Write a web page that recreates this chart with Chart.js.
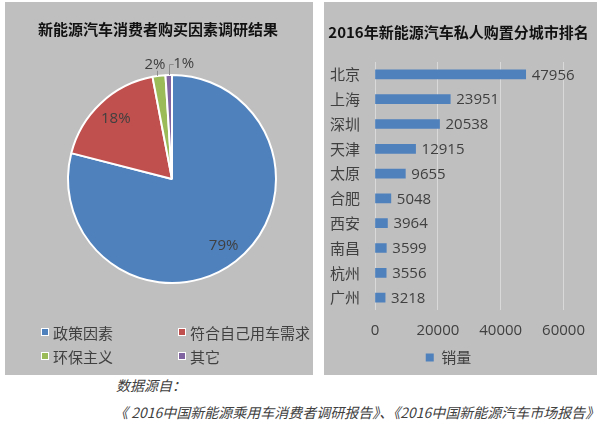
<!DOCTYPE html>
<html><head><meta charset="utf-8">
<script src="https://cdn.jsdelivr.net/npm/chart.js@4"></script>
<style>
html,body{margin:0;padding:0;background:#fff;width:600px;height:429px;overflow:hidden;}
.panel{position:absolute;background:#bfbfbf;}
#p1{left:5px;top:2px;width:308px;height:373px;}
#p2{left:324px;top:2px;width:273px;height:373px;}
canvas{display:block;}
.note{position:absolute;font-family:'Noto Sans CJK SC',sans-serif;font-style:italic;font-size:14px;color:#404040;white-space:nowrap;line-height:18px;}
</style></head><body>
<div class="panel" id="p1"><canvas id="c1" width="308" height="373" style="width:308px;height:373px"></canvas></div>
<div class="panel" id="p2"><canvas id="c2" width="273" height="373" style="width:273px;height:373px"></canvas></div>
<div class="note" id="n1" style="left:116px;top:376px">数据源自：</div>
<div class="note" id="n2" style="left:114px;top:403px">《 2016中国新能源乘用车消费者调研报告》、《2016中国新能源汽车市场报告》</div>
<script>
// ---- data ----
const pieTitle = '新能源汽车消费者购买因素调研结果';
const pieLabels = ['政策因素', '符合自己用车需求', '环保主义', '其它'];
const pieValues = [79, 18, 2, 1];

const barTitle = '2016年新能源汽车私人购置分城市排名';
const cities = ['北京', '上海', '深圳', '天津', '太原', '合肥', '西安', '南昌', '杭州', '广州'];
const sales = [47956, 23951, 20538, 12915, 9655, 5048, 3964, 3599, 3556, 3218];
const xTickValues = [0, 20000, 40000, 60000];
const seriesName = '销量';

// ---- styles ----
const FONT = "'Noto Sans CJK SC', sans-serif";
const FONT_NUM = "'Open Sans', 'Noto Sans CJK SC', sans-serif";
const TEXT = '#404040';
const pieColors = ['#4f81bd', '#c0504d', '#9bbb59', '#8064a2'];
const pieLabelStyle = [
  {inside: true, k: 0.81},
  {inside: true, k: 0.79},
  {inside: false, dx: -4, dy: -11},
  {inside: false, dx: 15, dy: -11}
];

const pieDecor = {
  id: 'pieDecor',
  afterDatasetsDraw(chart) {
    const ctx = chart.ctx;
    const meta = chart.getDatasetMeta(0);
    ctx.save();
    ctx.font = '15px ' + FONT_NUM;
    ctx.fillStyle = TEXT;
    ctx.textAlign = 'center';
    ctx.textBaseline = 'middle';
    ctx.strokeStyle = '#8c8c8c';
    ctx.lineWidth = 1;
    meta.data.forEach((arc, i) => {
      const p = arc.getProps(['x', 'y', 'startAngle', 'endAngle', 'outerRadius'], true);
      const mid = (p.startAngle + p.endAngle) / 2;
      const text = pieValues[i] + '%';
      const st = pieLabelStyle[i];
      if (st.inside) {
        ctx.fillText(text, p.x + Math.cos(mid) * p.outerRadius * st.k, p.y + Math.sin(mid) * p.outerRadius * st.k);
      } else {
        const ax = p.x + Math.cos(mid) * p.outerRadius;
        const ay = p.y + Math.sin(mid) * p.outerRadius;
        const tx = ax + st.dx, ty = ay + st.dy;
        ctx.beginPath();
        if (st.dx < 0) {
          ctx.moveTo(Math.round(ax - 2) + 0.5, ay);
          ctx.lineTo(Math.round(ax - 2) + 0.5, ty + 6);
        } else {
          ctx.moveTo(Math.round(ax) + 0.5, ay);
          ctx.lineTo(Math.round(ax) + 0.5, Math.round(ty) + 0.5);
          ctx.lineTo(tx - 10, Math.round(ty) + 0.5);
        }
        ctx.stroke();
        ctx.fillText(text, tx, ty);
      }
    });
    ctx.restore();
  },
  afterDraw(chart) {
    const ctx = chart.ctx;
    ctx.save();
    ctx.fillStyle = '#111';
    ctx.font = 'bold 15px ' + FONT;
    ctx.textAlign = 'center';
    ctx.textBaseline = 'middle';
    ctx.fillText(pieTitle, 153, 27);
    // legend
    const cols = [36, 173], rows = [330, 354];
    ctx.font = '15px ' + FONT;
    ctx.textAlign = 'left';
    pieLabels.forEach((lab, i) => {
      const x = cols[i % 2], y = rows[Math.floor(i / 2)];
      ctx.fillStyle = pieColors[i];
      ctx.fillRect(x, y - 4, 8, 8);
      ctx.strokeStyle = '#fff';
      ctx.lineWidth = 1;
      ctx.strokeRect(x + 0.5, y - 3.5, 7, 7);
      ctx.fillStyle = TEXT;
      ctx.fillText(lab, x + 12, y + 1);
    });
    ctx.restore();
  }
};

new Chart(document.getElementById('c1'), {
  type: 'pie',
  data: {
    labels: pieLabels,
    datasets: [{data: pieValues, backgroundColor: pieColors, borderColor: '#ffffff', borderWidth: 2, hoverOffset: 0}]
  },
  options: {
    responsive: false,
    animation: false,
    events: [],
    layout: {padding: {left: 62, right: 36, top: 72, bottom: 91}},
    plugins: {legend: {display: false}, title: {display: false}, tooltip: {enabled: false}}
  },
  plugins: [pieDecor]
});

const barDecor = {
  id: 'barDecor',
  afterDatasetsDraw(chart) {
    const ctx = chart.ctx;
    const meta = chart.getDatasetMeta(0);
    ctx.save();
    ctx.font = '15px ' + FONT_NUM;
    ctx.fillStyle = TEXT;
    ctx.textAlign = 'left';
    ctx.textBaseline = 'middle';
    meta.data.forEach((bar, i) => {
      ctx.fillText(String(sales[i]), bar.x + 6, bar.y + 1);
    });
    ctx.restore();
  },
  afterDraw(chart) {
    const ctx = chart.ctx;
    ctx.save();
    ctx.fillStyle = '#111';
    ctx.font = 'bold 15px ' + FONT;
    ctx.textAlign = 'center';
    ctx.textBaseline = 'middle';
    ctx.fillText(barTitle, 134.5, 30);
    ctx.restore();
  }
};

new Chart(document.getElementById('c2'), {
  type: 'bar',
  data: {
    labels: cities,
    datasets: [{label: seriesName, data: sales, backgroundColor: '#4f81bd', borderWidth: 0, barThickness: 9}]
  },
  options: {
    indexAxis: 'y',
    responsive: false,
    animation: false,
    events: [],
    layout: {padding: {left: 6, right: 30, top: 60, bottom: 0}},
    plugins: {
      title: {display: false},
      legend: {position: 'bottom', labels: {boxWidth: 8, boxHeight: 8, color: TEXT, font: {size: 15, family: FONT}, padding: 12}},
      tooltip: {enabled: false}
    },
    scales: {
      x: {
        min: 0, max: 60000,
        afterBuildTicks: s => { s.ticks = xTickValues.map(v => ({value: v})); },
        afterFit: s => { s.height = 28; },
        grid: {color: '#d9d9d9', drawTicks: false},
        border: {display: false},
        ticks: {color: TEXT, font: {size: 15, family: FONT_NUM}, padding: 12, maxRotation: 0, callback: v => String(v)}
      },
      y: {
        grid: {display: false, drawTicks: false},
        border: {display: false},
        ticks: {color: TEXT, font: {size: 15, family: FONT}, padding: 15},
        afterFit: s => { s.width = 45; }
      }
    }
  },
  plugins: [barDecor]
});
</script>
</body></html>
